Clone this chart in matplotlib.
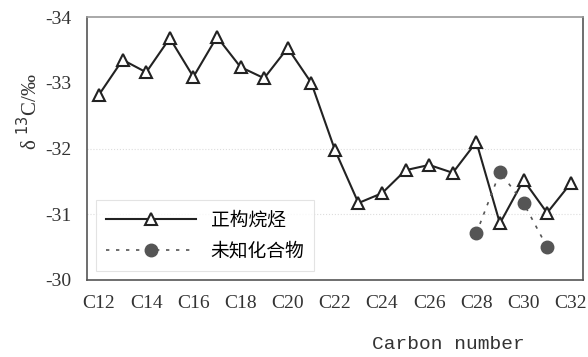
import matplotlib
matplotlib.use("Agg")
import matplotlib.pyplot as plt

carbon = list(range(12, 33))
alkanes = [-32.82, -33.35, -33.16, -33.68, -33.09, -33.70, -33.24, -33.07, -33.53, -33.0,
           -31.98, -31.17, -31.32, -31.67, -31.75, -31.63, -32.10, -30.86, -31.52, -31.02, -31.47]
unk_c = [28, 29, 30, 31]
unknown = [-30.71, -31.64, -31.17, -30.50]
xticks = list(range(12, 33, 2))
xlabels = ["C" + str(c) for c in xticks]
yticks = [-34, -33, -32, -31, -30]

plt.rcParams['font.family'] = ['Liberation Serif', 'Noto Sans CJK SC']
fig = plt.figure(figsize=(5.88, 3.57), dpi=100)
ax = fig.add_axes([0.148, 0.216, 0.843, 0.736])

ax.plot(carbon, alkanes, color="#222222", linewidth=1.5, marker="^", markersize=8,
        markerfacecolor="white", markeredgecolor="#222222", markeredgewidth=1.5, label="正构烷烃")
ax.plot(unk_c, unknown, color="#555555", linewidth=1.2, linestyle=(0, (2, 4)), marker="o",
        markersize=9, markerfacecolor="#555555", markeredgecolor="#555555", label="未知化合物")

ax.set_xlim(11.49, 32.51)
ax.set_ylim(-30, -34)
ax.set_xticks(xticks)
ax.set_xticklabels(xlabels, fontsize=14, color="#333333")
ax.set_yticks(yticks)
ax.set_yticklabels(["-34", "-33", "-32", "-31", "-30"], fontsize=14, color="#333333")
ax.tick_params(length=0, pad=11)
for y in [-32, -31]:
    ax.axhline(y, color="#dddddd", linewidth=0.8, linestyle=":", zorder=0)
for s in ax.spines.values():
    s.set_color("#555555")
    s.set_linewidth(1.2)
ax.spines["top"].set_color("#999999")

ax.set_xlabel("Carbon number", family="Liberation Mono", fontsize=14, color="#333333")
ax.xaxis.set_label_coords(0.73, -0.215)
ax.set_ylabel("δ $^{13}$C/‰", fontsize=15, color="#333333")
ax.yaxis.set_label_coords(-0.09, 0.64)

leg = ax.legend(loc="lower left", bbox_to_anchor=(0.0, 0.0), handlelength=4.8,
                frameon=True, fancybox=False, edgecolor="#dddddd", borderpad=0.5, labelspacing=0.5,
                prop={'family': ['Noto Sans CJK SC'], 'size': 13.5})
leg.get_frame().set_linewidth(0.8)

fig.savefig("out.png", dpi=100)
